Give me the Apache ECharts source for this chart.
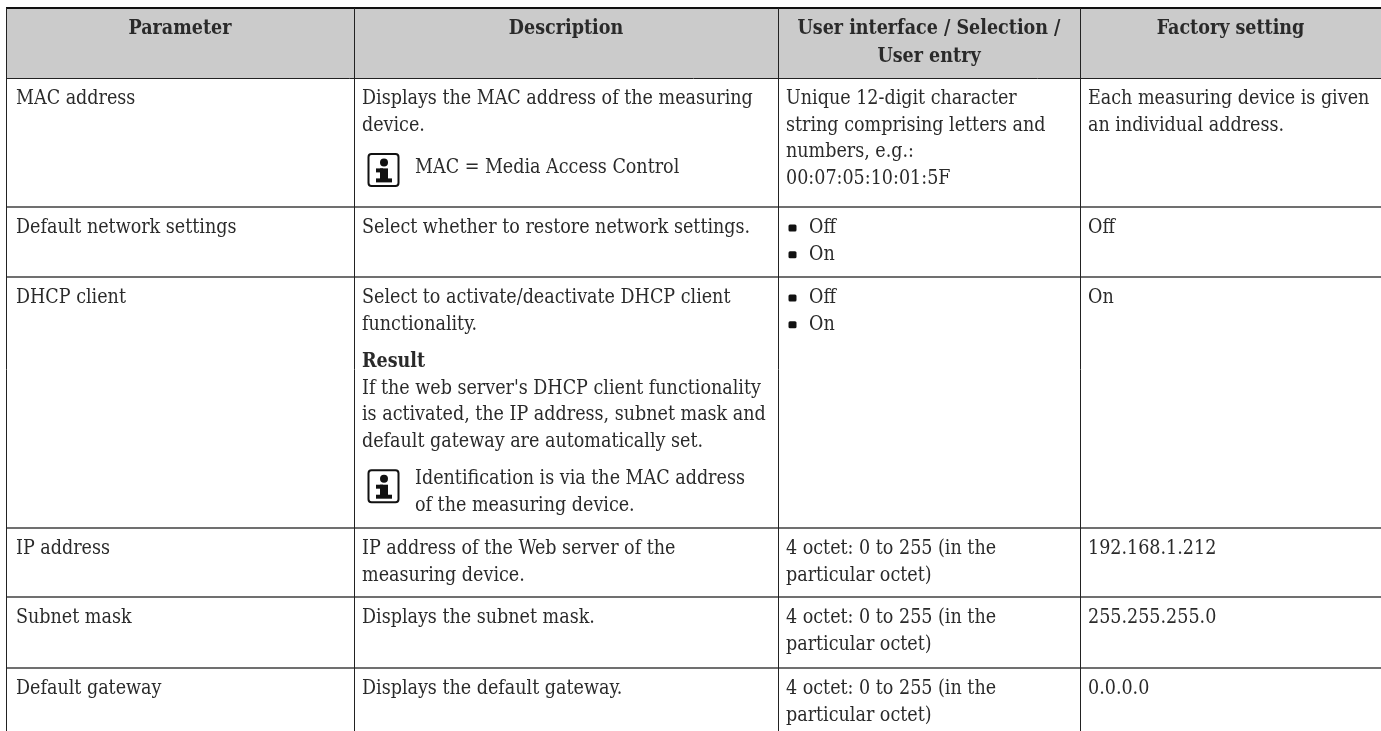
<!DOCTYPE html>
<html><head><meta charset="utf-8">
<style>html,body{margin:0;padding:0;background:#fff}#c{width:1381px;height:731px}</style>
<script src="https://cdn.jsdelivr.net/npm/echarts@6/dist/echarts.min.js"></script>
</head><body><div id="c"></div>
<script>
const headers = [["Parameter"],["Description"],["User interface / Selection /","User entry"],["Factory setting"]];
const paramColumn = ["MAC address","Default network settings","DHCP client","IP address","Subnet mask","Default gateway"];
const descColumn = [
 [["Displays the MAC address of the measuring","device."],["i","MAC = Media Access Control"]],
 [["Select whether to restore network settings."]],
 [["Select to activate/deactivate DHCP client","functionality."],["b","Result"],["If the web server's DHCP client functionality","is activated, the IP address, subnet mask and","default gateway are automatically set."],["i","Identification is via the MAC address","of the measuring device."]],
 [["IP address of the Web server of the","measuring device."]],
 [["Displays the subnet mask."]],
 [["Displays the default gateway."]]
];
const entryColumn = [
 ["Unique 12-digit character","string comprising letters and","numbers, e.g.:","00:07:05:10:01:5F"],
 ["• Off","• On"],["• Off","• On"],
 ["4 octet: 0 to 255 (in the","particular octet)"],["4 octet: 0 to 255 (in the","particular octet)"],["4 octet: 0 to 255 (in the","particular octet)"]
];
const factoryColumn = [["Each measuring device is given","an individual address."],["Off"],["On"],["192.168.1.212"],["255.255.255.0"],["0.0.0.0"]];

const colX = [6,354,778,1080,1381];
const rowY = [8,78,207,277,528,597,668,731];
const FONT = '"DejaVu Serif Condensed","DejaVu Serif",serif';
const SIZE = 19.5, LH = 26.7, TOP = 21, GAP = 10.5;
const els = [];
const txt = (s,x,y,o={}) => els.push({type:'text',x,y,style:{text:s,font:(o.bold?'bold ':'')+SIZE+'px '+FONT,fill:'#2a2a2a',align:o.align||'left',verticalAlign:'middle'}});
const line = (x1,y1,x2,y2,c,w) => els.push({type:'line',shape:{x1,y1,x2,y2},style:{stroke:c,lineWidth:w}});
const icon = (x,y) => {
  els.push({type:'rect',shape:{x:x+.5,y:y+.5,width:30,height:32,r:3},style:{fill:'#fff',stroke:'#111',lineWidth:2}});
  els.push({type:'circle',shape:{cx:x+16,cy:y+9,r:4},style:{fill:'#111'}});
  els.push({type:'rect',shape:{x:x+12,y:y+15,width:8,height:12},style:{fill:'#111'}});
  els.push({type:'rect',shape:{x:x+8,y:y+25,width:16,height:4},style:{fill:'#111'}});
  els.push({type:'rect',shape:{x:x+8,y:y+15,width:7,height:4},style:{fill:'#111'}});
};
els.push({type:'rect',shape:{x:colX[0],y:rowY[0],width:1375,height:rowY[1]-rowY[0]},style:{fill:'#cbcbcb'}});
headers.forEach((h,c)=>h.forEach((s,i)=>txt(s,(colX[c]+colX[c+1])/2,29+i*27.5,{bold:true,align:'center'})));
paramColumn.forEach((s,r)=>txt(s,16,rowY[r+1]+TOP));
descColumn.forEach((blocks,r)=>{
  let y = rowY[r+1]+TOP;
  blocks.forEach(b=>{
    if(b[0]==='i'){
      icon(368,y-9.5);
      const lines = b.slice(1), off = lines.length===1 ? 5.5 : 0;
      lines.forEach((s,i)=>txt(s,415,y+off+i*LH));
      y+=LH*lines.length;
    }
    else if(b[0]==='b'){ txt(b[1],362,y,{bold:true}); y+=LH; }
    else { b.forEach(s=>{txt(s,362,y); y+=LH;}); y+=GAP; }
  });
});
entryColumn.forEach((ls,r)=>ls.forEach((s,i)=>{
  const y = rowY[r+1]+TOP+i*LH;
  if(s.startsWith('• ')){ els.push({type:'rect',shape:{x:788.5,y:y-3.5,width:8,height:7,r:1.5},style:{fill:'#111'}}); txt(s.slice(2),809,y); }
  else txt(s,786,y);
}));
factoryColumn.forEach((ls,r)=>ls.forEach((s,i)=>txt(s,1088,rowY[r+1]+TOP+i*LH)));
rowY.slice(2,7).forEach(y=>line(6,y,1381,y,'#707070',2));
line(6,rowY[0],1381,rowY[0],'#111',2);
line(6,rowY[1]+.5,1381,rowY[1]+.5,'#222',1);
colX.slice(0,4).forEach(x=>line(x+.5,8,x+.5,731,'#222',1));
const chart = echarts.init(document.getElementById('c'),null,{renderer:'canvas'});
chart.setOption({animation:false,graphic:{elements:els}});
</script></body></html>
